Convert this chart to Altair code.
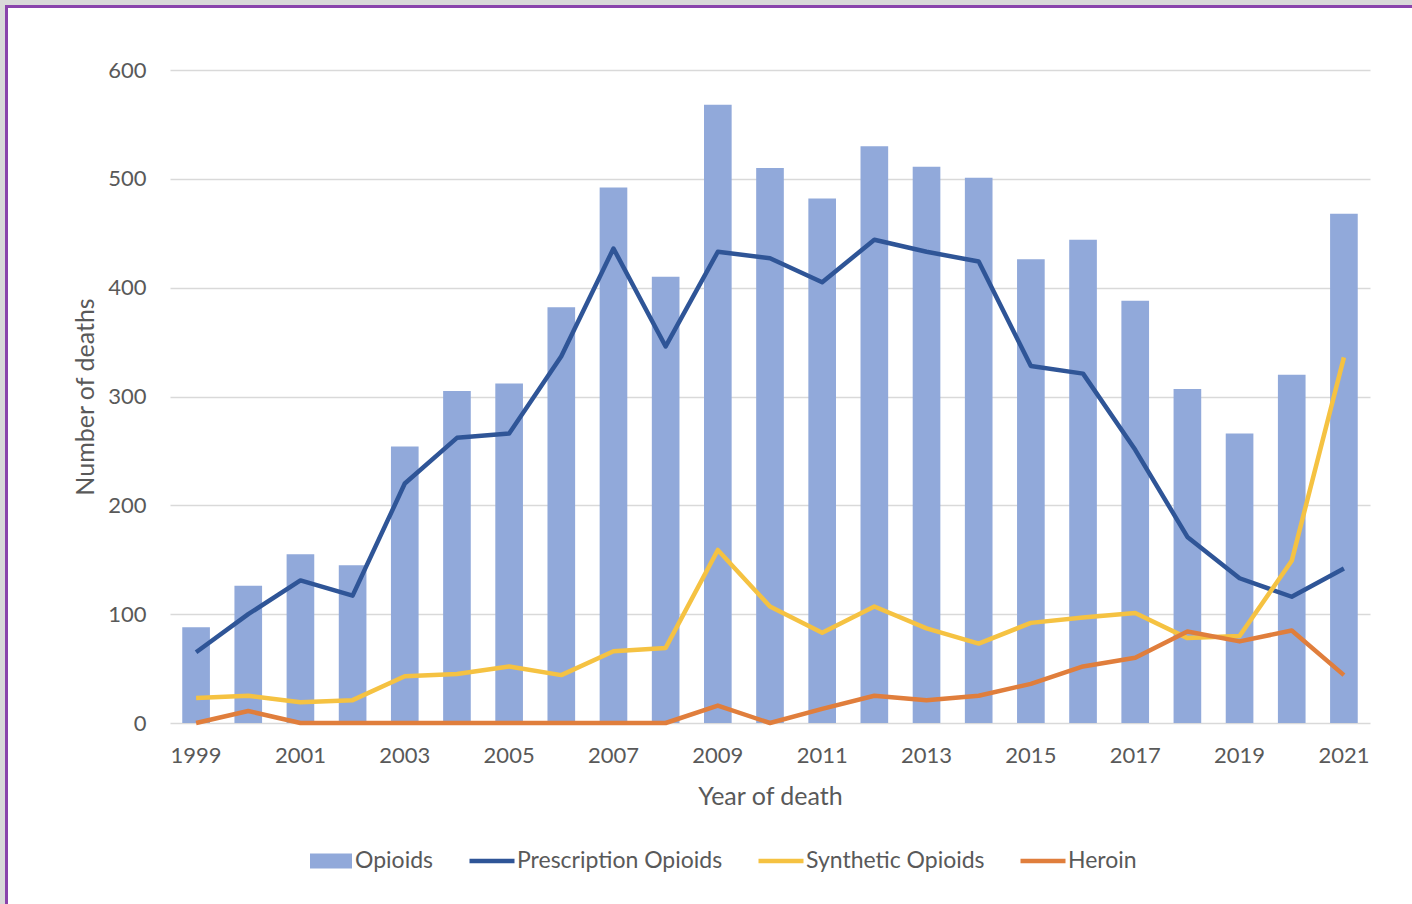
import altair as alt
import pandas as pd

years = list(range(1999, 2022))
opioids = [88, 126, 155, 145, 254, 305, 312, 382, 492, 410, 568, 510, 482, 530, 511, 501, 426, 444, 388, 307, 266, 320, 468]
prescription = [65, 100, 131, 117, 220, 262, 266, 337, 436, 346, 433, 427, 405, 444, 433, 424, 328, 321, 251, 171, 133, 116, 142]
synthetic = [23, 25, 19, 21, 43, 45, 52, 44, 66, 69, 159, 107, 83, 107, 87, 73, 92, 97, 101, 78, 80, 149, 336]
heroin = [0, 11, 0, 0, 0, 0, 0, 0, 0, 0, 16, 0, 13, 25, 21, 25, 36, 52, 60, 84, 75, 85, 44]

line_names = ["Prescription Opioids", "Synthetic Opioids", "Heroin"]
line_colors = ["#2F5597", "#F5C242", "#E07E3C"]
bar_color = "#91A9DA"
text_color = "#595959"
FONT = "Lato"

bars_df = pd.DataFrame({"year": years, "deaths": opioids, "series": "Opioids"})
rows = []
for name, vals in zip(line_names, [prescription, synthetic, heroin]):
    for y, v in zip(years, vals):
        rows.append({"year": y, "deaths": v, "series": name})
lines_df = pd.DataFrame(rows)

W, H = 1200, 653

one = pd.DataFrame({"a": [0]})
gray_edge = alt.Chart(one).mark_rect(
    fill="transparent", stroke="#D9D9D9", strokeWidth=11, clip=False
).encode(
    x=alt.value(-170), x2=alt.value(W + 300),
    y=alt.value(-70), y2=alt.value(H + 400)
)
purple_edge = alt.Chart(one).mark_rect(
    fill="transparent", stroke="#8A44AC", strokeWidth=3, clip=False
).encode(
    x=alt.value(-163.5), x2=alt.value(W + 200),
    y=alt.value(-63.5), y2=alt.value(H + 300)
)

x_enc = alt.X(
    "year:O",
    scale=alt.Scale(paddingInner=0.47, paddingOuter=0.235),
    axis=alt.Axis(
        title="Year of death",
        values=[y for y in years if y % 2 == 1],
        labelAngle=0,
        labelFontSize=22,
        labelColor=text_color,
        labelFont=FONT,
        labelPadding=22,
        titleFontSize=25,
        titleFont=FONT,
        titleColor=text_color,
        titleFontWeight="normal",
        titlePadding=18,
        ticks=False,
        domain=False,
        grid=False,
    ),
)

y_enc = alt.Y(
    "deaths:Q",
    scale=alt.Scale(domain=[0, 600]),
    axis=alt.Axis(
        title="Number of deaths",
        values=[0, 100, 200, 300, 400, 500, 600],
        labelFontSize=22,
        labelColor=text_color,
        labelFont=FONT,
        labelPadding=24,
        titleFontSize=25,
        titleFont=FONT,
        titleColor=text_color,
        titleFontWeight="normal",
        titlePadding=9,
        ticks=False,
        domain=False,
        grid=True,
        gridColor="#D9D9D9",
        gridWidth=1.5,
    ),
)

bars = alt.Chart(bars_df).mark_bar(opacity=1).encode(
    x=x_enc,
    y=y_enc,
    fill=alt.Fill(
        "series:N",
        scale=alt.Scale(domain=["Opioids"], range=[bar_color]),
        legend=alt.Legend(
            orient="none", legendX=140, legendY=770, title=None,
            symbolType="M-1,-0.36L1,-0.36L1,0.36L-1,0.36Z",
            symbolSize=1764, symbolStrokeWidth=0, symbolOpacity=1,
            labelFontSize=23, labelFont=FONT, labelColor=text_color,
            labelOffset=3, labelLimit=0,
        ),
    ),
)

lines = alt.Chart(lines_df).mark_line(strokeWidth=4.5, strokeJoin="round").encode(
    x=alt.X("year:O"),
    y=alt.Y("deaths:Q"),
    stroke=alt.Stroke(
        "series:N",
        scale=alt.Scale(domain=line_names, range=line_colors),
        legend=alt.Legend(
            orient="none", legendX=297, legendY=766, title=None,
            direction="horizontal", columns=3,
            symbolType="stroke", symbolSize=2025, symbolStrokeWidth=4.5,
            labelFontSize=23, labelFont=FONT, labelColor=text_color,
            labelOffset=0, columnPadding=26, labelLimit=0,
        ),
    ),
    detail="series:N",
)

chart = alt.layer(bars, lines, gray_edge, purple_edge).resolve_scale(x="shared").properties(
    width=W, height=H,
    autosize=alt.AutoSizeParams(type="none"),
    padding={"left": 170, "top": 70, "right": 42, "bottom": 181},
    background="white",
).configure_view(stroke=None)

chart.save("out.html", embed_options={"renderer": "svg", "actions": False})
